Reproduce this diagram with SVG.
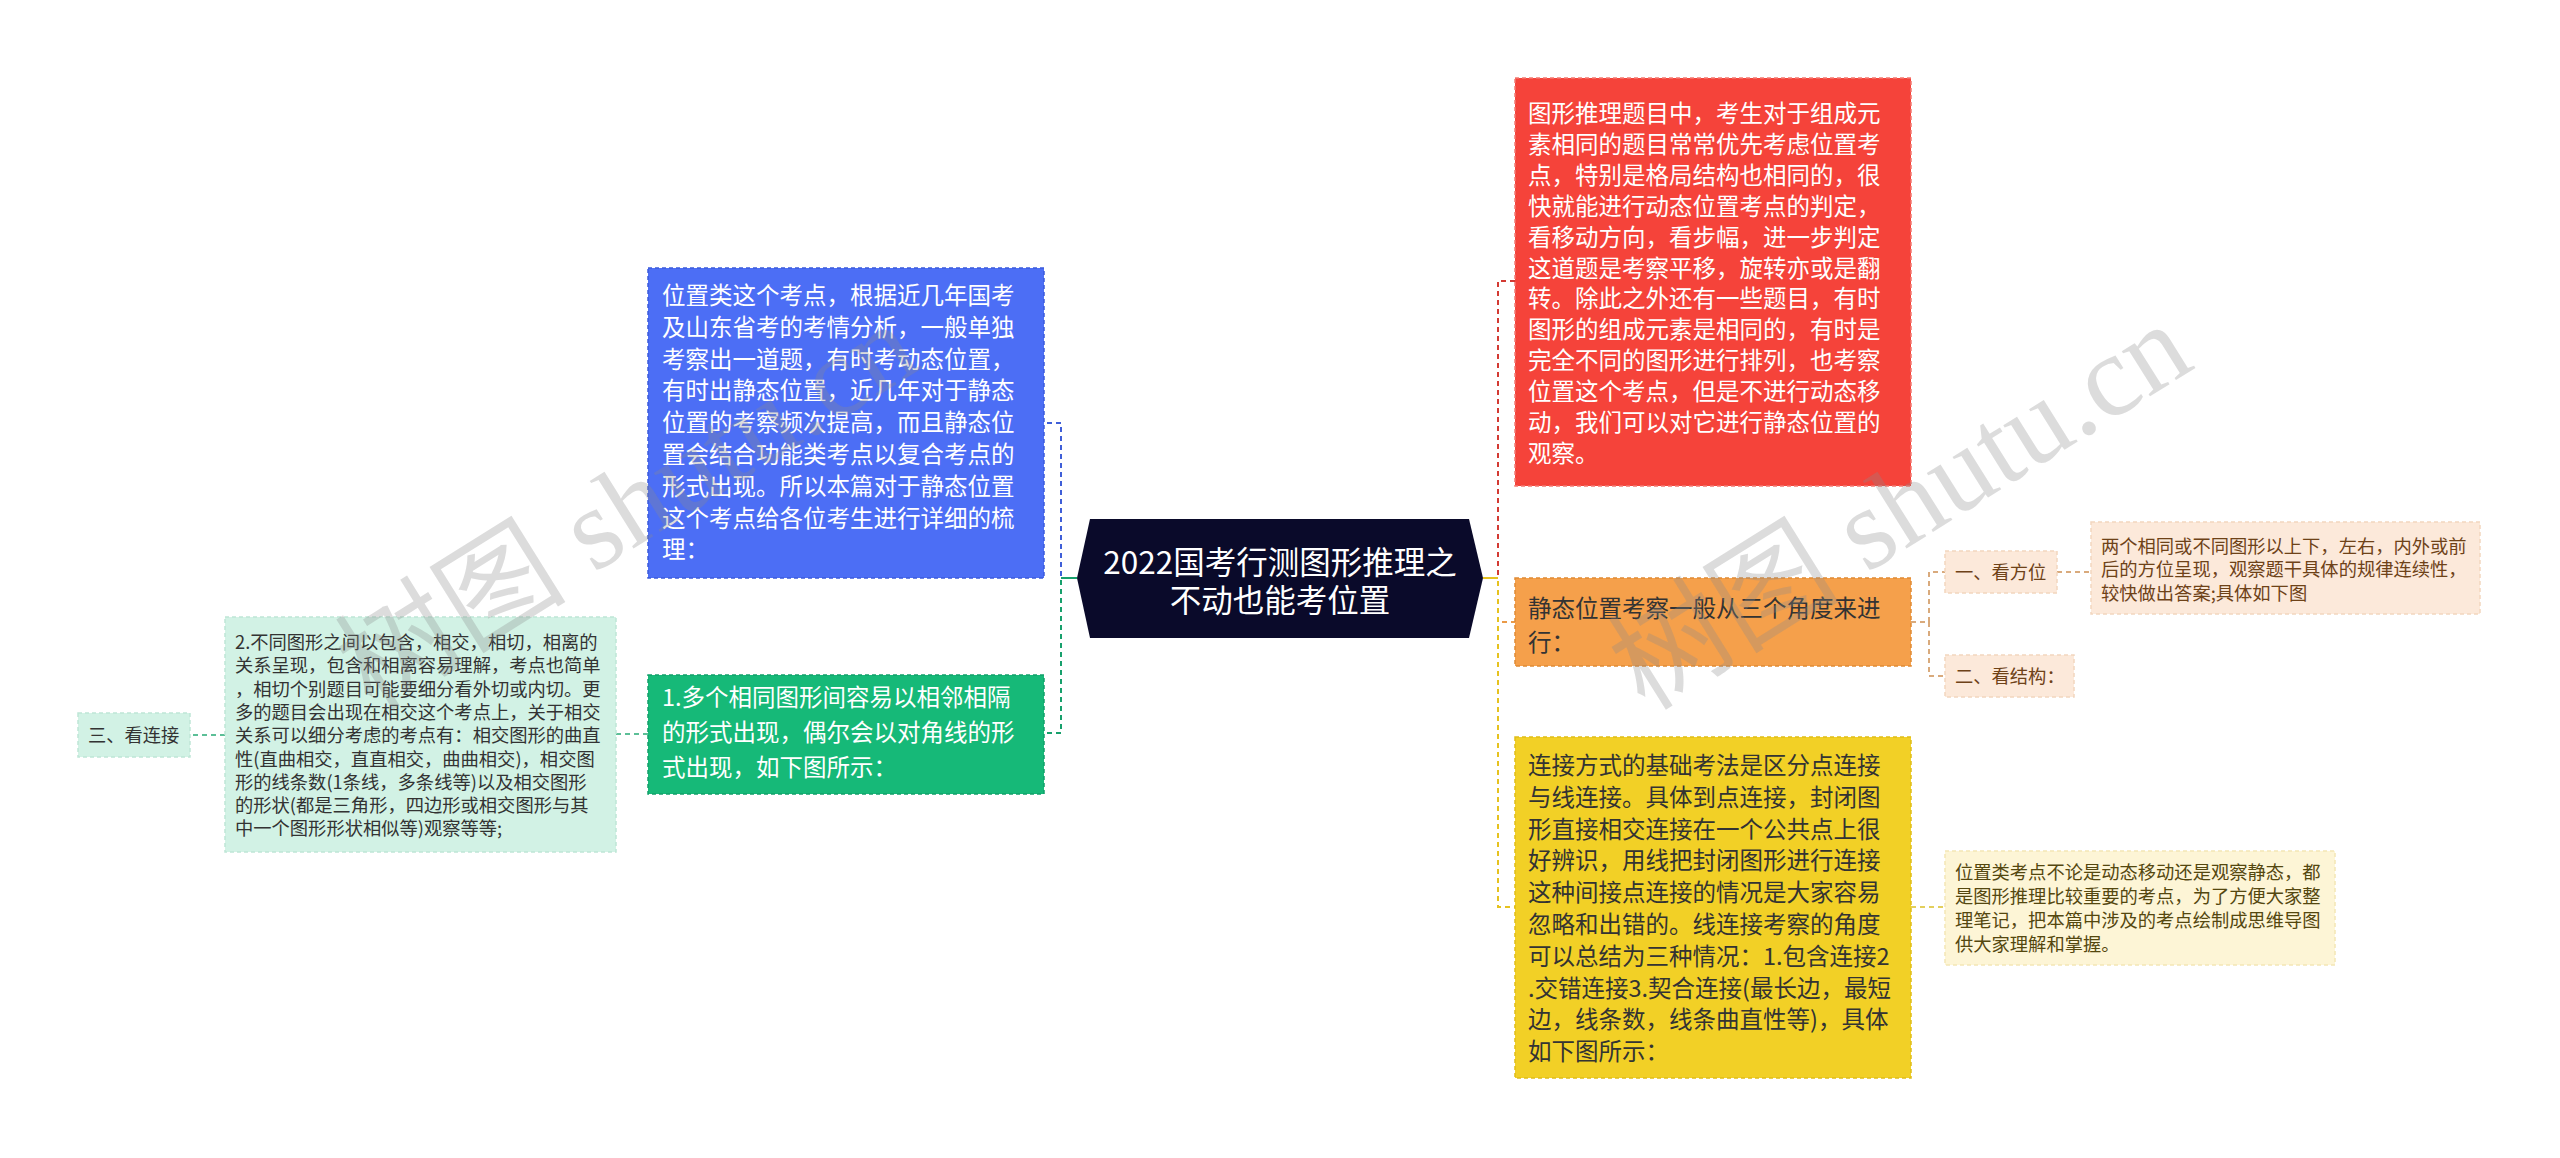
<svg xmlns="http://www.w3.org/2000/svg" width="2560" height="1158" viewBox="0 0 2560 1158">
<style>
text{font-family:"Noto Sans CJK SC","Noto Sans",sans-serif;}
.big{font-size:23.5px;}
.sm{font-size:18.3px;}
.w{fill:#ffffff;}
.d{fill:#333333;}
.br{fill:#6e4218;}
.ol{fill:#54470f;}
.c{fill:none;stroke-width:2;stroke-dasharray:5 4;}
.nb{stroke-width:1.5;stroke-dasharray:4 3;}
.wm{font-family:"Liberation Serif","Noto Sans CJK SC",serif;font-size:116px;fill:#8a8a8a;fill-opacity:0.3;}
</style>
<rect width="2560" height="1158" fill="#ffffff"/>
<g id="connectors">
<path class="c" stroke="#3f5fd8" d="M1077,578 H1061 V423 H1044"/>
<path class="c" stroke="#17a06c" d="M1077,578 H1061 V733 H1044"/>
<path d="M1077,578 H1061" stroke="#17a06c" stroke-width="2" fill="none"/>
<path class="c" stroke="#5cbf97" d="M648,734 H616"/>
<path class="c" stroke="#5cbf97" d="M225,735 H190"/>
<path class="c" stroke="#d33a33" d="M1483,578 H1498 V281 H1515"/>
<path class="c" stroke="#ea9a48" d="M1483,578 H1498 V622 H1515"/>
<path class="c" stroke="#e6c21f" d="M1483,578 H1498 V907 H1515"/>
<path d="M1483,578 H1498" stroke="#e6c21f" stroke-width="2" fill="none"/>
<path class="c" stroke="#d9aa7c" d="M1911,622 H1929 V572 H1945 M1929,622 V676 H1945"/>
<path class="c" stroke="#d9aa7c" d="M2057,572 H2091"/>
<path class="c" stroke="#e3cf5c" d="M1911,907 H1945"/>
</g>
<g id="root">
<polygon points="1077,578 1090,519 1469,519 1483,578 1469,638 1090,638" fill="#0a0a2a"/>
<text x="1280" y="574" text-anchor="middle" class="w" style="font-size:31.5px">2022国考行测图形推理之</text>
<text x="1280" y="612" text-anchor="middle" class="w" style="font-size:31.5px">不动也能考位置</text>
</g>
<g id="n-blue">
<rect x="648" y="268" width="396" height="310" fill="#4c6ef5" stroke="#3b5bdb" class="nb"/>
<text class="big w" x="662" y="304"><tspan x="662">位置类这个考点，根据近几年国考</tspan><tspan x="662" dy="31.8">及山东省考的考情分析，一般单独</tspan><tspan x="662" dy="31.8">考察出一道题，有时考动态位置，</tspan><tspan x="662" dy="31.8">有时出静态位置，近几年对于静态</tspan><tspan x="662" dy="31.8">位置的考察频次提高，而且静态位</tspan><tspan x="662" dy="31.8">置会结合功能类考点以复合考点的</tspan><tspan x="662" dy="31.8">形式出现。所以本篇对于静态位置</tspan><tspan x="662" dy="31.8">这个考点给各位考生进行详细的梳</tspan><tspan x="662" dy="31.8">理：</tspan></text>
</g>
<g id="n-green">
<rect x="648" y="675" width="396" height="119" fill="#16b978" stroke="#12a06a" class="nb"/>
<text class="big w" x="662" y="706"><tspan x="662">1.多个相同图形间容易以相邻相隔</tspan><tspan x="662" dy="35">的形式出现，偶尔会以对角线的形</tspan><tspan x="662" dy="35">式出现，如下图所示：</tspan></text>
</g>
<g id="n-teal">
<rect x="225" y="617" width="391" height="235" fill="#d2f2e5" stroke="#bfe6d6" class="nb"/>
<text class="sm d" x="235" y="649"><tspan x="235">2.不同图形之间以包含，相交，相切，相离的</tspan><tspan x="235" dy="23.3">关系呈现，包含和相离容易理解，考点也简单</tspan><tspan x="235" dy="23.3">，相切个别题目可能要细分看外切或内切。更</tspan><tspan x="235" dy="23.3">多的题目会出现在相交这个考点上，关于相交</tspan><tspan x="235" dy="23.3">关系可以细分考虑的考点有：相交图形的曲直</tspan><tspan x="235" dy="23.3">性(直曲相交，直直相交，曲曲相交)，相交图</tspan><tspan x="235" dy="23.3">形的线条数(1条线，多条线等)以及相交图形</tspan><tspan x="235" dy="23.3">的形状(都是三角形，四边形或相交图形与其</tspan><tspan x="235" dy="23.3">中一个图形形状相似等)观察等等;</tspan></text>
</g>
<g id="n-kanlianjie">
<rect x="78" y="713" width="112" height="44" fill="#d2f2e5" stroke="#bfe6d6" class="nb"/>
<text class="sm d" x="88" y="742">三、看连接</text>
</g>
<g id="n-red">
<rect x="1515" y="78" width="396" height="408" fill="#f5433a" stroke="#f47a72" class="nb"/>
<text class="big w" x="1528" y="122"><tspan x="1528">图形推理题目中，考生对于组成元</tspan><tspan x="1528" dy="30.9">素相同的题目常常优先考虑位置考</tspan><tspan x="1528" dy="30.9">点，特别是格局结构也相同的，很</tspan><tspan x="1528" dy="30.9">快就能进行动态位置考点的判定，</tspan><tspan x="1528" dy="30.9">看移动方向，看步幅，进一步判定</tspan><tspan x="1528" dy="30.9">这道题是考察平移，旋转亦或是翻</tspan><tspan x="1528" dy="30.9">转。除此之外还有一些题目，有时</tspan><tspan x="1528" dy="30.9">图形的组成元素是相同的，有时是</tspan><tspan x="1528" dy="30.9">完全不同的图形进行排列，也考察</tspan><tspan x="1528" dy="30.9">位置这个考点，但是不进行动态移</tspan><tspan x="1528" dy="30.9">动，我们可以对它进行静态位置的</tspan><tspan x="1528" dy="30.9">观察。</tspan></text>
</g>
<g id="n-orange">
<rect x="1515" y="578" width="396" height="88" fill="#f5a04b" stroke="#e08a35" class="nb"/>
<text class="big d" x="1528" y="617"><tspan x="1528">静态位置考察一般从三个角度来进</tspan><tspan x="1528" dy="34">行：</tspan></text>
</g>
<g id="n-yellow">
<rect x="1515" y="737" width="396" height="341" fill="#f2d026" stroke="#e0bd18" class="nb"/>
<text class="big d" x="1528" y="774"><tspan x="1528">连接方式的基础考法是区分点连接</tspan><tspan x="1528" dy="31.8">与线连接。具体到点连接，封闭图</tspan><tspan x="1528" dy="31.8">形直接相交连接在一个公共点上很</tspan><tspan x="1528" dy="31.8">好辨识，用线把封闭图形进行连接</tspan><tspan x="1528" dy="31.8">这种间接点连接的情况是大家容易</tspan><tspan x="1528" dy="31.8">忽略和出错的。线连接考察的角度</tspan><tspan x="1528" dy="31.8">可以总结为三种情况：1.包含连接2</tspan><tspan x="1528" dy="31.8">.交错连接3.契合连接(最长边，最短</tspan><tspan x="1528" dy="31.8">边，线条数，线条曲直性等)，具体</tspan><tspan x="1528" dy="31.8">如下图所示：</tspan></text>
</g>
<g id="n-kanfangwei">
<rect x="1945" y="551" width="112" height="42" fill="#fce9da" stroke="#f2d6bf" class="nb"/>
<text class="sm br" x="1955" y="579">一、看方位</text>
</g>
<g id="n-kanjiegou">
<rect x="1945" y="655" width="129" height="42" fill="#fce9da" stroke="#f2d6bf" class="nb"/>
<text class="sm br" x="1955" y="683">二、看结构：</text>
</g>
<g id="n-fangwei-detail">
<rect x="2091" y="522" width="389" height="92" fill="#fce9da" stroke="#f2d6bf" class="nb"/>
<text class="sm br" x="2101" y="553"><tspan x="2101">两个相同或不同图形以上下，左右，内外或前</tspan><tspan x="2101" dy="23.3">后的方位呈现，观察题干具体的规律连续性，</tspan><tspan x="2101" dy="23.3">较快做出答案;具体如下图</tspan></text>
</g>
<g id="n-note">
<rect x="1945" y="851" width="390" height="114" fill="#fdf5d6" stroke="#f3e6b5" class="nb"/>
<text class="sm ol" x="1955" y="879"><tspan x="1955">位置类考点不论是动态移动还是观察静态，都</tspan><tspan x="1955" dy="24">是图形推理比较重要的考点，为了方便大家整</tspan><tspan x="1955" dy="24">理笔记，把本篇中涉及的考点绘制成思维导图</tspan><tspan x="1955" dy="24">供大家理解和掌握。</tspan></text>
</g>
<g id="watermark">
<text class="wm" transform="translate(372,712) rotate(-32)">树图 shutu.cn</text>
<text class="wm" transform="translate(1645,712) rotate(-32)">树图 shutu.cn</text>
</g>
</svg>
